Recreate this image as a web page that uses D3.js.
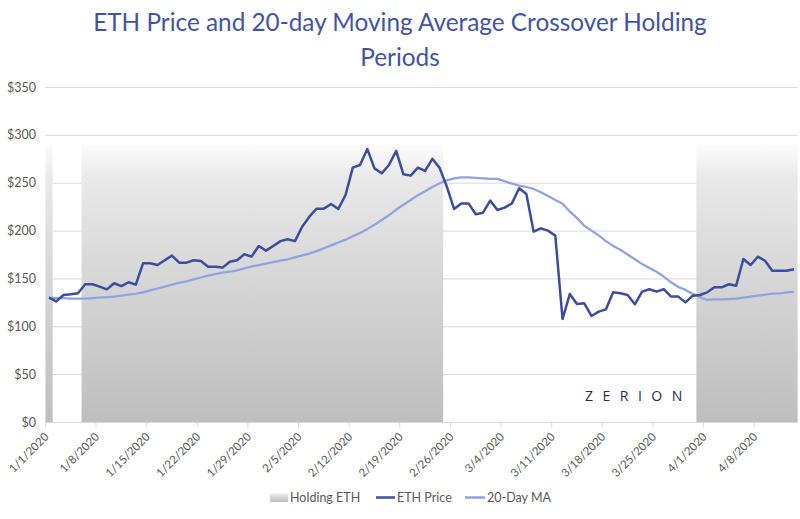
<!DOCTYPE html>
<html><head><meta charset="utf-8">
<script src="https://cdn.jsdelivr.net/npm/d3@7"></script>
<style>body{margin:0;background:#fff;}</style>
</head><body><svg id="c" width="800" height="519"></svg>
<script>
// ---------- data ----------
const startDate = "2020-01-01";
const dayCount = 104; // 1/1/2020 .. 4/13/2020
const ethPrice = [130,126,132.7,133.5,134.5,143.9,143.9,141.4,138.6,145,
  142,146,143.5,165.8,165.8,164,169,173.8,166.5,166.5,
  169,168.2,162.3,162.3,161.3,167.5,169,175.2,172.8,183.9,
  179,183.9,189,190.9,189,204,214.5,222.9,222.9,227.8,
  222.6,237.2,265.7,268.5,285.3,265,259.8,268.5,283.2,258.8,
  257.4,265.7,262.3,275,265.5,246,222.6,228.4,228.4,217,
  218.7,231.3,221.5,224,228.4,244.2,238.2,198.9,202.3,199.9,
  194.7,107.6,133.7,123.3,124,110.8,115.3,117.7,135.5,134.5,
  132.7,123,136.2,138.7,136.2,138.7,131,131,125,132,
  132.7,135.5,140.7,140.7,143.9,142.4,170.3,164,172.7,168.5,
  158.1,158.1,158.1,159.6];
const ma20 = [130,129.5,129.5,129,129,129,129.5,130,130.5,131,
  132,133,134,135.5,137.5,139.5,141.5,143.5,145.5,147,
  149,151,153,154.5,156,157,158.5,160.5,162.5,164,
  165.5,167,168.5,170,172,174,176,178.5,181.5,184.5,
  187.5,190.5,194,197.5,201.5,206,211,216,222,227,
  232,237,241,245.5,249.5,252.5,254.5,255.5,255.5,255,
  254.5,254,254,251.5,249,247,245.5,243.5,240,236,
  232,228,220,213,205,200,195,189,184,180,
  175,170,165,161,157,152,146,141,138,134,
  130.5,127.5,128,128,128.5,129,130,131,132,133,
  134,134.5,135.5,136];
const holdingPeriods = [["2020-01-01","2020-01-01"],["2020-01-06","2020-02-24"],["2020-03-31","2020-04-13"]];
const holdingLevel = 290;
const yTicks = [0,50,100,150,200,250,300,350];
const xTickLabels = ["1/1/2020","1/8/2020","1/15/2020","1/22/2020","1/29/2020","2/5/2020","2/12/2020","2/19/2020","2/26/2020","3/4/2020","3/11/2020","3/18/2020","3/25/2020","4/1/2020","4/8/2020"];
const legendItems = ["Holding ETH","ETH Price","20-Day MA"];
const titleLines = ["ETH Price and 20-day Moving Average Crossover Holding","Periods"];

// ---------- setup ----------
const svg = d3.select("#c");
const parse = d3.timeParse("%Y-%m-%d");
const fmtKey = d3.timeFormat("%Y-%m-%d");
const labelParse = d3.timeParse("%m/%d/%Y");
const t0 = parse(startDate);
const days = d3.range(dayCount).map(i => fmtKey(d3.timeDay.offset(t0, i)));

const plotL = 45.4, plotR = 797.6, plotT = 87, plotB = 422;
const x = d3.scaleBand().domain(days).range([plotL, plotR]).padding(0);
const y = d3.scaleLinear().domain([0, 350]).range([plotB, plotT]);
const cx = k => x(k) + x.bandwidth()/2;

const defs = svg.append("defs");
const g = defs.append("linearGradient").attr("id","hold").attr("x1",0).attr("y1",0).attr("x2",0).attr("y2",1);
[[0,"#fcfcfc"],[0.12,"#e9e9e9"],[0.4,"#dadada"],[1,"#bebebe"]].forEach(([o,c]) =>
  g.append("stop").attr("offset",o).attr("stop-color",c));

const font = "Lato, 'Open Sans', sans-serif";

// title
const title = svg.append("g").attr("fill","#4353a3").attr("font-family",font).attr("text-anchor","middle");
titleLines.forEach((t,i) => title.append("text").attr("x",400).attr("y",[31,66][i]).attr("font-size",24).text(t));
const tl = title.select("text").node().getComputedTextLength();
title.selectAll("text").attr("font-size", 24*614/tl);

// gridlines
svg.append("g").selectAll("line").data(yTicks).join("line")
  .attr("x1",plotL).attr("x2",plotR).attr("y1",d=>y(d)+0.5).attr("y2",d=>y(d)+0.5)
  .attr("stroke","#d9d9d9").attr("stroke-width",1);

// holding bars
svg.append("g").selectAll("rect").data(holdingPeriods).join("rect")
  .attr("x", d => x(d[0]))
  .attr("width", d => x(d[1]) + x.bandwidth() - x(d[0]))
  .attr("y", y(holdingLevel))
  .attr("height", y(0) - y(holdingLevel))
  .attr("fill","url(#hold)");

// x axis
const xAxis = svg.append("g").attr("transform",`translate(0,${plotB+0.5})`);
xAxis.append("line").attr("x1",plotL).attr("x2",plotR).attr("stroke","#d9d9d9");
const tickKeys = xTickLabels.map(l => fmtKey(labelParse(l)));
xAxis.selectAll("line.t").data(tickKeys).join("line").attr("class","t")
  .attr("x1",d=>x(d)).attr("x2",d=>x(d)).attr("y1",0).attr("y2",5).attr("stroke","#d9d9d9");
xAxis.selectAll("text").data(xTickLabels).join("text")
  .attr("transform",(d,i)=>`translate(${x(tickKeys[i])+4},15) rotate(-45)`)
  .attr("text-anchor","end").attr("font-family",font).attr("font-size",11.5)
  .attr("fill","#595959").text(d=>d);

// y axis labels
svg.append("g").selectAll("text").data(yTicks).join("text")
  .attr("x",36).attr("y",d=>y(d)+4.5).attr("text-anchor","end")
  .attr("font-family",font).attr("font-size",12.5).attr("fill","#595959")
  .text(d=>"$"+d);

// lines
const line = arr => d3.line().x((d,i)=>cx(days[i])).y(d=>y(d))(arr);
svg.append("path").attr("d",line(ma20)).attr("fill","none").attr("stroke","#8fa2e2").attr("stroke-width",2.25).attr("stroke-linejoin","round");
svg.append("path").attr("d",line(ethPrice)).attr("fill","none").attr("stroke","#3c4c9f").attr("stroke-width",2.5).attr("stroke-linejoin","round");

// Zerion mark
svg.append("text").attr("x",585).attr("y",401).attr("font-family","'Open Sans', sans-serif")
  .attr("font-size",14).attr("font-weight",400).attr("letter-spacing",9.5).attr("fill","#232c57").text("ZERION");

// legend
const lg = svg.append("g").attr("font-family",font).attr("font-size",12.5).attr("fill","#595959");
lg.append("rect").attr("x",270).attr("y",493).attr("width",18).attr("height",9).attr("fill","url(#hold)");
lg.append("text").attr("x",290).attr("y",502).text(legendItems[0]);
lg.append("line").attr("x1",376).attr("x2",395).attr("y1",497.5).attr("y2",497.5).attr("stroke","#3c4c9f").attr("stroke-width",2.5);
lg.append("text").attr("x",397).attr("y",502).text(legendItems[1]);
lg.append("line").attr("x1",465).attr("x2",485).attr("y1",497.5).attr("y2",497.5).attr("stroke","#8fa2e2").attr("stroke-width",2.5);
lg.append("text").attr("x",487).attr("y",502).text(legendItems[2]);
</script></body></html>
